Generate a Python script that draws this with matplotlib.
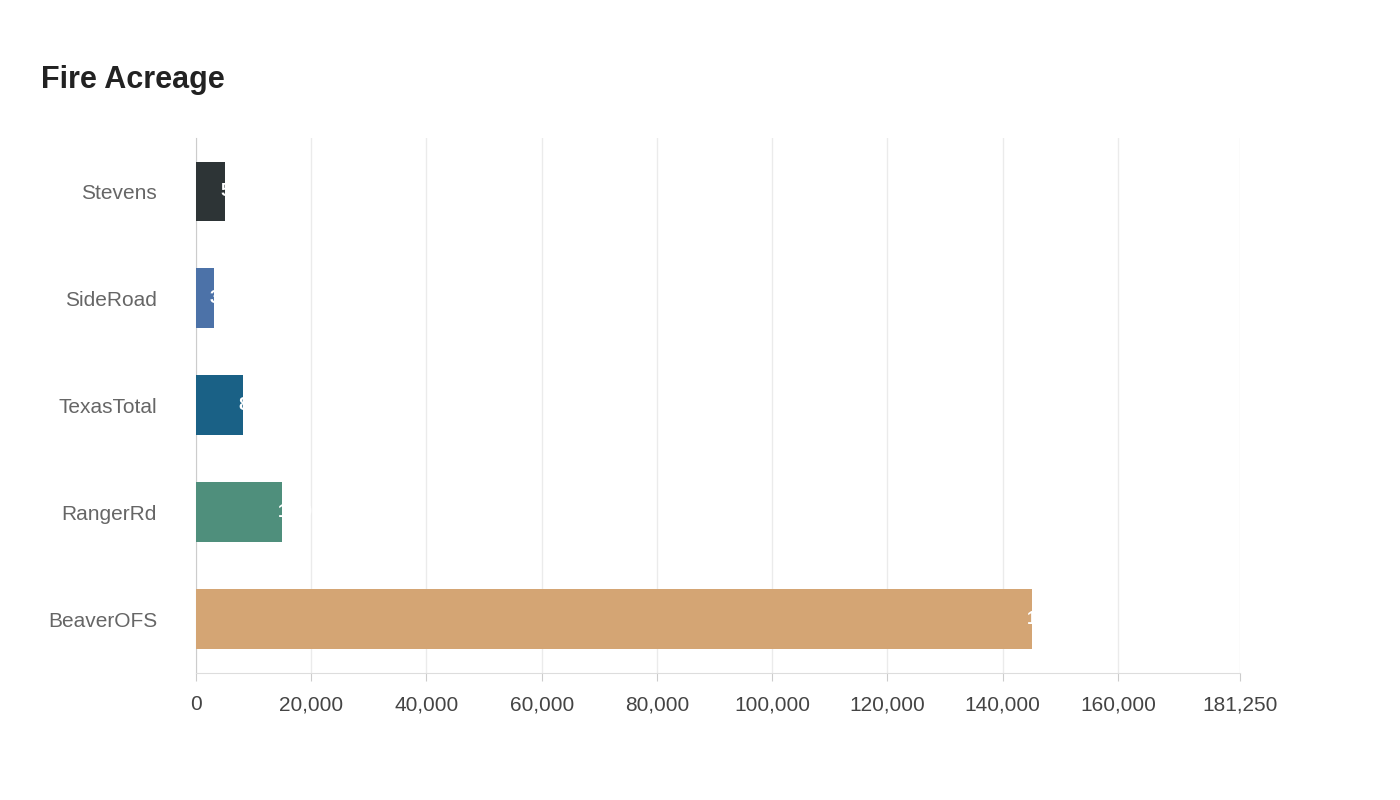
import matplotlib
matplotlib.use("Agg")
import matplotlib.pyplot as plt

categories = ["Stevens", "SideRoad", "TexasTotal", "RangerRd", "BeaverOFS"]
values = [5000, 3200, 8200, 15000, 145000]
colors = ["#2d3436", "#4c72a8", "#1a6186", "#4f8f7c", "#d4a574"]
ticks = [0, 20000, 40000, 60000, 80000, 100000, 120000, 140000, 160000, 181250]

plt.rcParams['font.family'] = ['Liberation Sans', 'DejaVu Sans']
fig = plt.figure(figsize=(14, 8), dpi=100)
ax = fig.add_axes([0.14, 0.159, 0.746, 0.6685])
ax.barh(range(len(categories)), values, height=0.56, color=colors, zorder=3)
for i, v in enumerate(values):
    ax.text(v - 800, i, f"{v:,}", color="white", fontsize=13, fontweight="bold",
            va="center", ha="left", zorder=4)
ax.set_xlim(0, 181250)
ax.set_ylim(4.5, -0.5)
ax.set_yticks(range(len(categories)))
ax.set_yticklabels(categories, fontsize=15, color="#666666")
ax.set_xticks(ticks)
ax.set_xticklabels([f"{t:,}" for t in ticks], fontsize=15, color="#444444")
ax.grid(axis="x", color="#ebebeb", lw=1, zorder=0)
for s in ["top", "right"]:
    ax.spines[s].set_visible(False)
ax.spines["left"].set_color("#cccccc")
ax.spines["bottom"].set_color("#dddddd")
ax.tick_params(axis="y", length=0, pad=28)
ax.tick_params(axis="x", length=6, color="#cccccc", pad=10)
fig.text(0.029, 0.9, "Fire Acreage", fontsize=22, fontweight="bold", color="#222222", va="center")
fig.savefig("out.png")
